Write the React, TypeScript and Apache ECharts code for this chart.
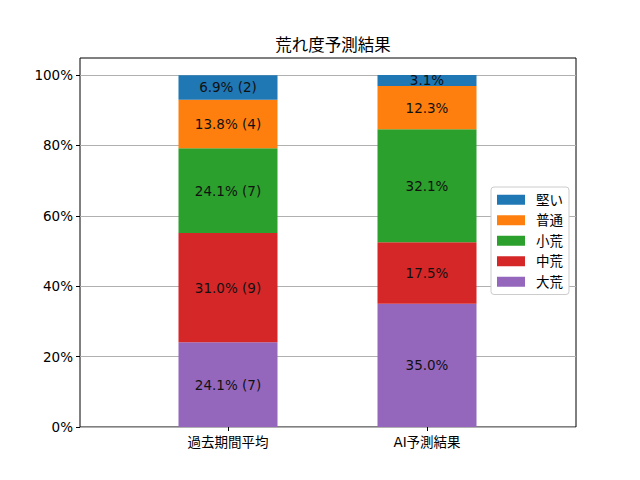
import React, { useEffect, useRef } from "react";
import * as echarts from "echarts";

const categories = ["過去期間平均", "AI予測結果"];
const seriesNames = ["大荒", "中荒", "小荒", "普通", "堅い"];
const pastValues = [24.1, 31.0, 24.1, 13.8, 6.9];
const pastCounts = [7, 9, 7, 4, 2];
const aiValues = [35.0, 17.5, 32.1, 12.3, 3.1];
const colors = ["#9467bd", "#d62728", "#2ca02c", "#ff7f0e", "#1f77b4"];
const yTicks = [0, 20, 40, 60, 80, 100];

const FONT = "'DejaVu Sans', 'Noto Sans CJK JP', sans-serif";

export default function App() {
  const ref = useRef<HTMLDivElement>(null);
  useEffect(() => {
    if (!ref.current) return;
    const chart = echarts.init(ref.current, null, { renderer: "svg" });
    const series = seriesNames.map((name, i) => ({
      name,
      type: "bar",
      stack: "total",
      xAxisIndex: 2,
      yAxisIndex: 2,
      barWidth: 99,
      itemStyle: { color: colors[i] },
      data: [pastValues[i], aiValues[i]],
      label: {
        show: true,
        position: "inside",
        color: "#111",
        fontFamily: FONT,
        fontSize: 13.5,
        formatter: (p: any) =>
          p.dataIndex === 0
            ? `${pastValues[i].toFixed(1)}% (${pastCounts[i]})`
            : `${aiValues[i].toFixed(1)}%`,
      },
    }));
    chart.setOption({
      animation: false,
      textStyle: { fontFamily: FONT },
      title: {
        text: "荒れ度予測結果",
        left: 328,
        top: 32,
        textAlign: "center",
        textStyle: { fontFamily: FONT, fontSize: 16.5, fontWeight: "normal", color: "#000" },
      },
      legend: {
        orient: "vertical",
        left: 491,
        top: 187,
        data: seriesNames.slice().reverse(),
        icon: "rect",
        itemWidth: 28,
        itemHeight: 10,
        itemGap: 7,
        padding: [6, 6, 6, 6],
        borderColor: "#cccccc",
        borderWidth: 1,
        borderRadius: 3,
        backgroundColor: "#fff",
        textStyle: { fontFamily: FONT, fontSize: 13.5, color: "#000", padding: [0, 0, 0, 6] },
        itemStyle: { borderWidth: 0 },
      },
      grid: [
        { left: 80, right: 64, top: 58, bottom: 53, show: true, borderColor: "#000", borderWidth: 1, backgroundColor: "transparent" },
        { left: 80, right: 64, top: 75, bottom: 53 },
        { left: 128.5, right: 113.5, top: 75, bottom: 53 },
      ],
      xAxis: [
        { gridIndex: 0, type: "value", show: false, min: 0, max: 1 },
        { gridIndex: 1, type: "value", show: false, min: 0, max: 1 },
        {
          gridIndex: 2,
          type: "category",
          data: categories,
          axisLine: { show: false },
          axisTick: { show: true, alignWithLabel: true, length: 4, lineStyle: { color: "#000" } },
          axisLabel: { color: "#000", fontSize: 13.5, fontFamily: FONT, margin: 8 },
        },
      ],
      yAxis: [
        { gridIndex: 0, type: "value", show: false, min: 0, max: 1 },
        {
          gridIndex: 1,
          type: "value",
          min: yTicks[0],
          max: yTicks[yTicks.length - 1],
          interval: 20,
          axisLine: { show: false },
          axisTick: { show: true, length: 4, lineStyle: { color: "#000" } },
          axisLabel: { color: "#000", fontSize: 13.5, fontFamily: FONT, formatter: (v: number) => `${v}%`, margin: 7 },
          splitLine: { show: true, lineStyle: { color: "#b0b0b0", width: 1 } },
        },
        { gridIndex: 2, type: "value", show: false, min: 0, max: 100 },
      ],
      series,
    });
    return () => chart.dispose();
  }, []);
  return <div ref={ref} style={{ width: 640, height: 480, margin: -8 }} />;
}
